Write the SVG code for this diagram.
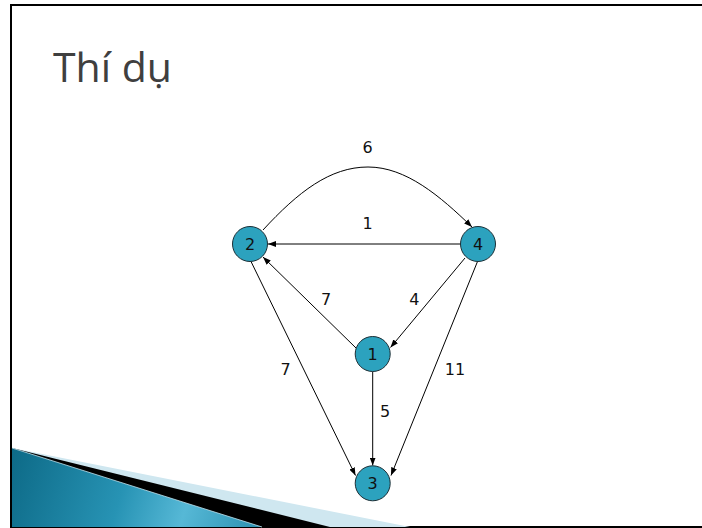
<svg xmlns="http://www.w3.org/2000/svg" width="702" height="528" viewBox="0 0 702 528">
<style>
.node{fill:#2ca2be;stroke:#1d2f36;stroke-width:1}
.nlabel{font-family:"DejaVu Sans",Verdana,sans-serif;font-size:16px;fill:#111;text-anchor:middle}
.elabel{font-family:"DejaVu Sans",Verdana,sans-serif;font-size:16px;fill:#111;text-anchor:middle}
.edge{fill:none;stroke:#000;stroke-width:1;marker-end:url(#arr)}
.title{font-family:"Open Sans","Noto Sans",sans-serif;font-size:41px;fill:#3f3f3f}
</style>
<defs>
<marker id="arr" viewBox="0 0 8 6" refX="8" refY="3" markerWidth="8" markerHeight="6" markerUnits="userSpaceOnUse" orient="auto">
<path d="M0,0 L8,3 L0,6 Z" fill="#000"/>
</marker>
<linearGradient id="teal" x1="12" y1="448" x2="262" y2="527" gradientUnits="userSpaceOnUse">
<stop offset="0" stop-color="#0d6a87"/>
<stop offset="0.45" stop-color="#2793b4"/>
<stop offset="0.7" stop-color="#56b8d6"/>
<stop offset="1" stop-color="#2a90b0"/>
</linearGradient>
</defs>
<rect x="11" y="5" width="700" height="522" fill="#fff" stroke="#000" stroke-width="2"/>
<g id="decoration">
<polygon points="12,448 410,527 12,527" fill="#cfe7f0"/>
<polygon points="12,448 330,527 12,527" fill="#000"/>
<polygon points="12,448 262,527 12,527" fill="url(#teal)"/>
<line x1="12" y1="448" x2="262" y2="527" stroke="#bfe2ee" stroke-width="0.8"/>
</g>
<text class="title" x="53" y="82">Thí dụ</text>
<g id="connectors">
<path class="edge" d="M263,230 C298,192 330,167 368,167 C406,167 440,196 472,227"/>
<line class="edge" x1="460.5" y1="244" x2="268" y2="244"/>
<line class="edge" x1="356" y1="348" x2="263" y2="257"/>
<line class="edge" x1="465" y1="258" x2="390.5" y2="347.5"/>
<line class="edge" x1="251" y1="261.5" x2="355.5" y2="475.5"/>
<line class="edge" x1="477.5" y1="261.5" x2="391" y2="475.5"/>
<line class="edge" x1="372.7" y1="371.5" x2="372.7" y2="465.5"/>
<text class="elabel" x="367.7" y="152.5">6</text>
<text class="elabel" x="367.7" y="229">1</text>
<text class="elabel" x="326" y="305">7</text>
<text class="elabel" x="414.3" y="305">4</text>
<text class="elabel" x="285.7" y="375">7</text>
<text class="elabel" x="455" y="375">11</text>
<text class="elabel" x="385" y="416.5">5</text>
</g>
<g id="node-2"><circle class="node" cx="250" cy="244" r="17.5"/><text class="nlabel" x="250" y="250">2</text></g>
<g id="node-4"><circle class="node" cx="478" cy="244" r="17.5"/><text class="nlabel" x="478" y="250">4</text></g>
<g id="node-1"><circle class="node" cx="372.7" cy="354" r="17.5"/><text class="nlabel" x="372.7" y="360">1</text></g>
<g id="node-3"><circle class="node" cx="372.7" cy="483.3" r="17.5"/><text class="nlabel" x="372.7" y="489.3">3</text></g>
</svg>
